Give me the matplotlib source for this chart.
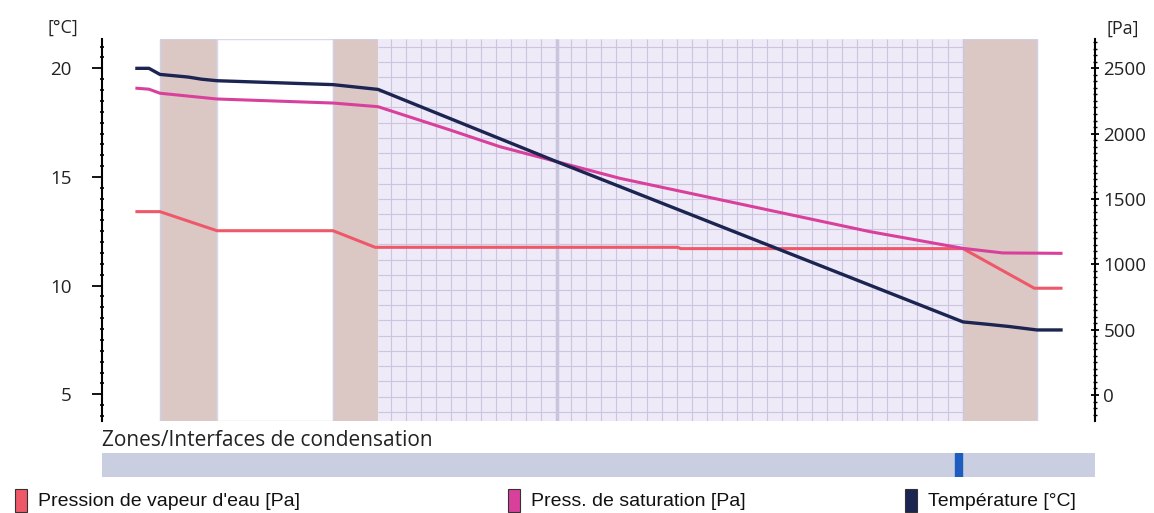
import numpy as np
import matplotlib
matplotlib.use('Agg')
import matplotlib.pyplot as plt
from matplotlib.patches import Rectangle
from matplotlib.ticker import MultipleLocator

# wall position [cm], layers from outside to inside
layer_edges = [0.0, 3.79, 11.50, 14.49, 26.38, 53.36, 58.27]
layer_kind = ['tan', 'white', 'tan', 'grid', 'grid', 'tan']

# temperature [°C]
temp_x = [-1.53, -0.73, 0.0, 1.86, 2.77, 3.79, 11.50, 14.49, 26.38, 53.36, 55.0, 56.4, 58.27, 59.87]
temp_c = [20.0, 20.0, 19.72, 19.60, 19.50, 19.43, 19.25, 19.03, 15.70, 8.33, 8.22, 8.12, 7.96, 7.96]

# saturation pressure [Pa]
psat_x = [-1.53, -0.73, 0.0, 3.79, 11.50, 14.49, 19.27, 22.59, 26.38, 30.56, 47.17, 53.36, 56.0, 59.87]
psat_pa = [2347, 2340, 2309, 2265, 2234, 2206, 2028, 1900, 1785, 1658, 1250, 1122, 1087, 1084]

# water vapour pressure [Pa]
pv_x = [-1.53, 0.0, 3.79, 11.50, 14.3, 34.4, 34.6, 53.36, 58.1, 59.87]
pv_pa = [1403, 1403, 1257, 1257, 1130, 1130, 1120, 1120, 817, 817]

# condensation interface marker
cond_x = [52.85, 53.30]

legend_labels = ["Pression de vapeur d'eau [Pa]", "Press. de saturation [Pa]", "Température [°C]"]

c_pv = '#ef5868'
c_ps = '#d9409c'
c_t = '#1c2452'

W, H = 1154, 513
fig = plt.figure(figsize=(W / 100, H / 100), dpi=100)
ax = fig.add_axes([102 / W, 1 - 421 / H, (1095 - 102) / W, 382 / H])
ax2 = ax.twinx()
ax.set_zorder(2)
ax2.set_zorder(1)
ax.patch.set_visible(False)

ax.set_xlim(-3.85, 62.13)
ax.set_ylim(3.77, 21.35)
ax2.set_ylim(-199, 2724)

# layers
for i, kind in enumerate(layer_kind):
    x0, x1 = layer_edges[i], layer_edges[i + 1]
    if kind == 'tan':
        ax2.axvspan(x0, x1, facecolor='#dbc8c5', edgecolor='#cfd0e4', lw=1.0, zorder=0)
    elif kind == 'white':
        ax2.axvspan(x0, x1, facecolor='white', edgecolor='#d8d8ea', lw=1.0, zorder=0)
    else:
        ax2.axvspan(x0, x1, facecolor='#eeeaf8', edgecolor='none', zorder=0)

# grid in insulation
gx0, gx1 = layer_edges[3], layer_edges[5]
xt = ax2.get_xaxis_transform()
ax2.vlines(np.arange(15.33, gx1, 1.0), 0, 1, transform=xt, color='#cbc5dd', lw=0.8, zorder=0.5)
ax2.hlines(np.linspace(0.0243, 0.980, 25), gx0, gx1, transform=xt, color='#cbc5dd', lw=0.8, zorder=0.5)
ax2.vlines([layer_edges[4]], 0, 1, transform=xt, color='#c8c5dd', lw=2.5, zorder=0.6)

ax2.plot(pv_x, pv_pa, color=c_pv, lw=2.2, zorder=3)
ax2.plot(psat_x, psat_pa, color=c_ps, lw=2.2, zorder=3)
ax.plot(temp_x, temp_c, color=c_t, lw=2.4, zorder=3)

for s in ['top', 'bottom', 'right']:
    ax.spines[s].set_visible(False)
for s in ['top', 'bottom', 'left']:
    ax2.spines[s].set_visible(False)
ax.spines['left'].set_linewidth(1.5)
ax2.spines['right'].set_linewidth(1.5)
ax.set_xticks([])

ax.yaxis.set_major_locator(MultipleLocator(5))
ax.yaxis.set_minor_locator(MultipleLocator(0.5))
ax.tick_params(axis='y', which='major', direction='out', length=7, width=1.3, pad=15,
               labelsize=13.5, labelcolor='#222222')
ax.tick_params(axis='y', which='minor', direction='inout', length=3, width=1.2)
ax2.yaxis.set_major_locator(MultipleLocator(500))
ax2.yaxis.set_minor_locator(MultipleLocator(50))
ax2.tick_params(axis='y', which='major', direction='inout', length=6, width=1.3, pad=3,
                labelsize=13.5, labelcolor='#222222')
ax2.tick_params(axis='y', which='minor', direction='inout', length=3, width=1.0)
for lab in ax.get_yticklabels() + ax2.get_yticklabels():
    lab.set_family('Open Sans')

fig.text(47 / W, 1 - 28 / H, '[°C]', fontsize=13, family='Open Sans', va='center', color='#222222')
fig.text(1106 / W, 1 - 29 / H, '[Pa]', fontsize=13, family='Open Sans', va='center', color='#222222')

# condensation bar
fig.text(102 / W, 1 - 440 / H, 'Zones/Interfaces de condensation', fontsize=15,
         family='Open Sans', va='center', color='#222222')
cax = fig.add_axes([102 / W, 1 - 477 / H, (1095 - 102) / W, 24 / H])
cax.set_facecolor('#c9cfe1')
cax.set_xlim(ax.get_xlim())
cax.axvspan(cond_x[0], cond_x[1], color='#1f5cc0')
cax.set_xticks([])
cax.set_yticks([])
for s in cax.spines.values():
    s.set_visible(False)

# legend
leg_colors = [c_pv, c_ps, c_t]
leg_x = [15, 508, 905]
for lx, col, lab in zip(leg_x, leg_colors, legend_labels):
    fig.patches.append(Rectangle((lx / W, 1 - 512 / H), 12 / W, 23 / H, transform=fig.transFigure,
                                 facecolor=col, edgecolor='#333333', lw=0.8))
    fig.text((lx + 23) / W, 1 - 501 / H, lab, fontsize=14, family='Liberation Sans',
             va='center', color='#111111')

fig.savefig('out.png', dpi=100)
